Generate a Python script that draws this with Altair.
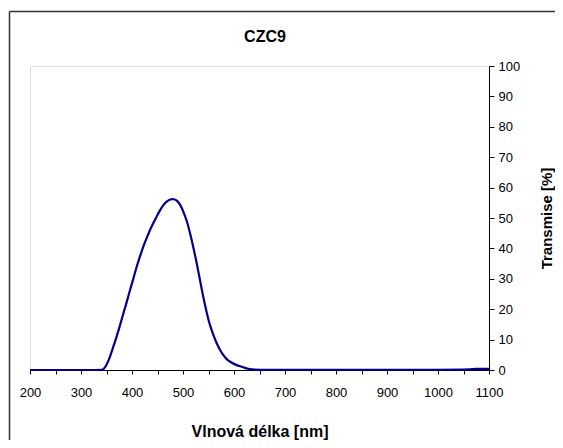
import altair as alt
import pandas as pd

wavelength = [200, 340, 343, 350, 357, 363, 370, 377, 383, 390, 396, 403, 409, 416, 422, 429, 435,
              442, 448, 455, 461, 468, 475, 482, 489, 495, 501, 507, 512, 517, 522, 527, 532, 537,
              542, 547, 551, 556, 561, 566, 572, 579, 585, 592, 602, 612, 621, 631, 640, 650,
              1066, 1068, 1070, 1100]
transmise = [0, 0, 0, 1.5, 4.4, 7.5, 11, 15, 18.6, 22.5, 26.3, 30.2, 34, 37.5, 40.6, 43.5, 46,
             48.4, 50.4, 52.6, 54.2, 55.5, 56.2, 56.3, 55.7, 54.3, 52, 49.3, 46.3, 42.8, 39, 35.1, 30.7, 26.3,
             22.2, 18.6, 15.7, 13.2, 10.8, 8.8, 6.7, 4.9, 3.6, 2.7, 1.8, 1.2, 0.7, 0.3, 0.1, 0,
             0, 0.4, 0.4, 0.4]
chart_title = "CZC9"

df = pd.DataFrame({"wl": wavelength, "t": transmise})
FONT = "Liberation Sans"

line = alt.Chart(df).mark_line(color="#00008B", strokeWidth=2.2, interpolate="basis").encode(
    x=alt.X("wl:Q", scale=alt.Scale(domain=[200, 1100], nice=False, zero=False),
            axis=alt.Axis(values=list(range(200, 1101, 50)),
                          labelExpr="datum.value % 100 == 0 ? datum.label : ''",
                          format="d", grid=False, tickSize=4, tickColor="black",
                          domainColor="black", labelFontSize=13, labelPadding=12,
                          labelColor="black", title="Vlnová délka [nm]",
                          titleFontSize=16, titleFontWeight="bold", titlePadding=24,
                          titleColor="black", labelFlush=False)),
    y=alt.Y("t:Q", scale=alt.Scale(domain=[0, 100], nice=False),
            axis=alt.Axis(orient="right", values=list(range(0, 101, 10)), grid=False,
                          tickSize=5, tickColor="black", domainColor="black",
                          labelFontSize=13, labelPadding=4, labelColor="black",
                          title="Transmise [%]", titleFontSize=15, titleFontWeight="bold",
                          titleAngle=270, titlePadding=35, titleColor="black",
                          labelFlush=False)),
)

frame_df = pd.DataFrame({"a": [0]})
top_edge = alt.Chart(frame_df).mark_rule(stroke="#333333", strokeWidth=1.5).encode(
    x=alt.value(-20.5), x2=alt.value(700), y=alt.value(-54.5)
)
left_edge = alt.Chart(frame_df).mark_rule(stroke="#333333", strokeWidth=1.5).encode(
    x=alt.value(-20.5), y=alt.value(-54.5), y2=alt.value(600)
)

title = alt.Chart(pd.DataFrame({"label": [chart_title]})).mark_text(
    font=FONT, fontSize=16, fontWeight="bold", color="black", baseline="middle", align="center"
).encode(
    x=alt.value(235), y=alt.value(-29), text="label:N"
)

chart = alt.layer(top_edge, left_edge, line, title).properties(
    width=459, height=304,
    autosize=alt.AutoSizeParams(type="none"),
    padding={"left": 22, "top": 58, "right": 66, "bottom": 70},
).configure_view(
    stroke="black", strokeWidth=1
).configure_axis(
    labelFont=FONT, titleFont=FONT
).configure(
    background="white"
)

chart.save("out.html", embed_options={"renderer": "svg", "actions": False})
